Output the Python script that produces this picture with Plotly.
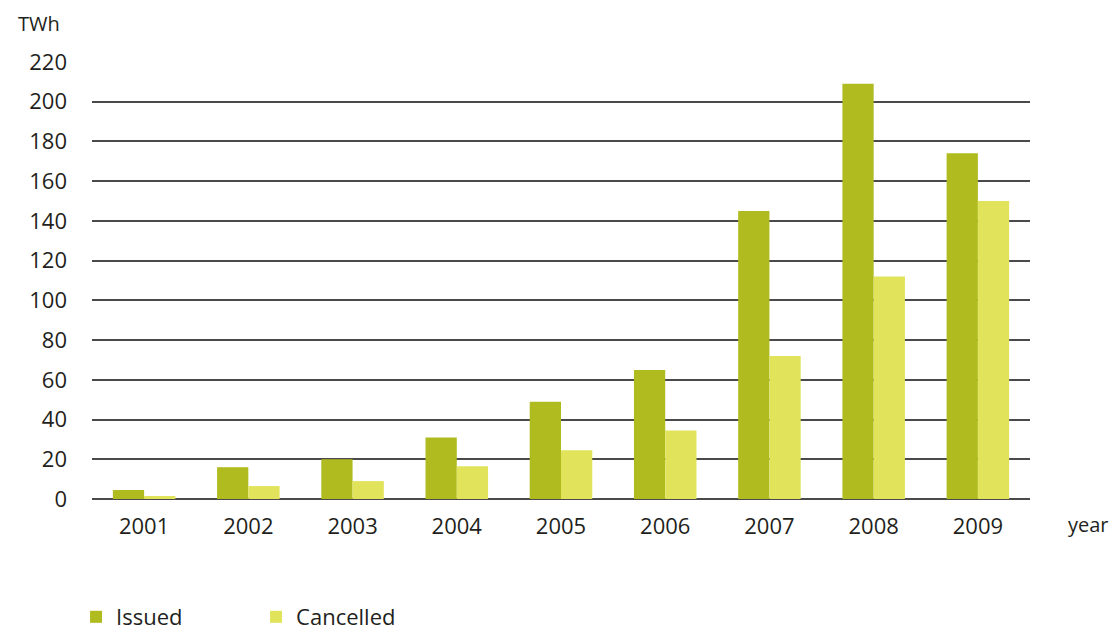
import plotly.graph_objects as go

years = ["2001", "2002", "2003", "2004", "2005", "2006", "2007", "2008", "2009"]
issued = [4.5, 16, 20, 31, 49, 65, 145, 209, 174]
cancelled = [1.5, 6.5, 9, 16.5, 24.5, 34.5, 72, 112, 150]

font_family = "Open Sans"
text_color = "#231f20"

fig = go.Figure()
fig.add_trace(go.Bar(name="Issued", x=years, y=issued, marker_color="#b0bb20",
                     marker_line_width=0))
fig.add_trace(go.Bar(name="Cancelled", x=years, y=cancelled, marker_color="#e1e35a",
                     marker_line_width=0))

# page body has an 8px margin, so the figure is sized/offset to compensate
fig.update_layout(
    width=1110, height=625,
    barmode="group", bargap=0.4, bargroupgap=0,
    plot_bgcolor="white", paper_bgcolor="white",
    margin=dict(l=84, r=88, t=54, b=134, autoexpand=False),
    font=dict(family=font_family, size=22, color=text_color),
    showlegend=True,
    legend=dict(orientation="h", x=-0.017, xanchor="left", y=-0.222, yanchor="top",
                entrywidth=135, entrywidthmode="pixels",
                font=dict(size=22, color=text_color)),
)
fig.update_xaxes(showgrid=False, showline=False, ticks="", ticklabelstandoff=12,
                 tickfont=dict(size=22))
fig.update_yaxes(range=[0, 220], dtick=20, showgrid=True, gridcolor="#4a4a4a",
                 gridwidth=1.5, zeroline=True, zerolinecolor="#4a4a4a",
                 zerolinewidth=1.5, ticks="", ticklabelstandoff=24,
                 tickfont=dict(size=22))

fig.add_annotation(text="TWh", xref="paper", yref="paper", x=0, y=1,
                   xanchor="left", yanchor="bottom", xshift=-76, yshift=23,
                   showarrow=False, font=dict(size=20, color=text_color))
fig.add_annotation(text="year", xref="paper", yref="paper", x=1, y=0,
                   xanchor="left", yanchor="middle", xshift=36, yshift=-25,
                   showarrow=False, font=dict(size=20, color=text_color))

fig.write_html("out.html")
